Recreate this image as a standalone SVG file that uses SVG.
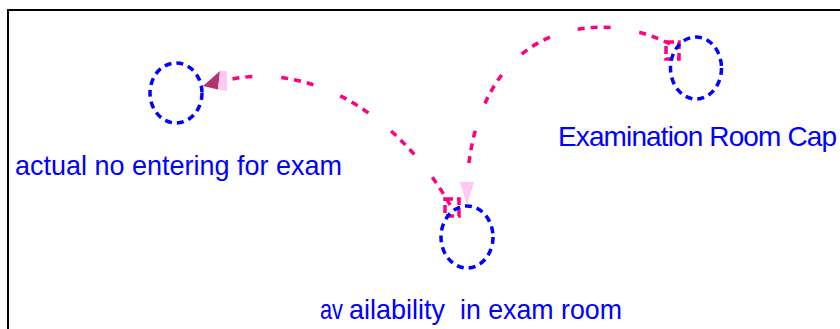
<svg xmlns="http://www.w3.org/2000/svg" width="840" height="329" viewBox="0 0 840 329">
<style>
.node{fill:none;stroke:#0000ff;stroke-width:3.5;stroke-dasharray:7 5}
.lnk{fill:none;stroke:#ff0080;stroke-width:3.5;stroke-dasharray:7 6 7 6 7 29}
.tab{fill:none;stroke:#ff0080;stroke-width:3.5;stroke-dasharray:8 4}
.lbl{font-family:"Liberation Sans Narrow","Liberation Sans",Arial,sans-serif;font-size:28px;fill:#0000ff}
</style>
<rect x="8" y="10" width="900" height="400" fill="#ffffff" stroke="#000000" stroke-width="2"/>
<g id="connectors">
  <g id="link-availability-actual">
    <rect class="tab" x="445" y="199" width="14" height="17"/>
    <path class="lnk" d="M450,205 C405,125 320,60 227,80"/>
    <polygon points="203,86 220,71 218,89.5" fill="#b3336f"/>
    <polygon points="220,71 227,71 227,91 218,89.5" fill="#ffc8f5"/>
  </g>
  <g id="link-capacity-availability">
    <rect class="tab" x="666" y="42" width="13" height="17"/>
    <path class="lnk" d="M670,44 C600,8 478,20 467,182"/>
    <polygon points="460,182 474,182 467,205" fill="#ffc8f5"/>
  </g>
</g>
<g id="actual">
  <ellipse class="node" cx="176" cy="93" rx="26" ry="30"/>
  <text class="lbl" x="15" y="175" textLength="327" lengthAdjust="spacingAndGlyphs">actual no entering for exam</text>
</g>
<g id="availability">
  <ellipse class="node" cx="467" cy="237" rx="26" ry="31"/>
  <text class="lbl" y="319"><tspan x="320" textLength="23" lengthAdjust="spacingAndGlyphs">av</tspan><tspan x="349" textLength="96" lengthAdjust="spacingAndGlyphs">ailability</tspan><tspan x="460" textLength="162" lengthAdjust="spacingAndGlyphs">in exam room</tspan></text>
</g>
<g id="capacity">
  <ellipse class="node" cx="696" cy="68" rx="25.5" ry="31"/>
  <text class="lbl" x="558" y="146" textLength="279" lengthAdjust="spacing">Examination Room Cap</text>
</g>
</svg>
